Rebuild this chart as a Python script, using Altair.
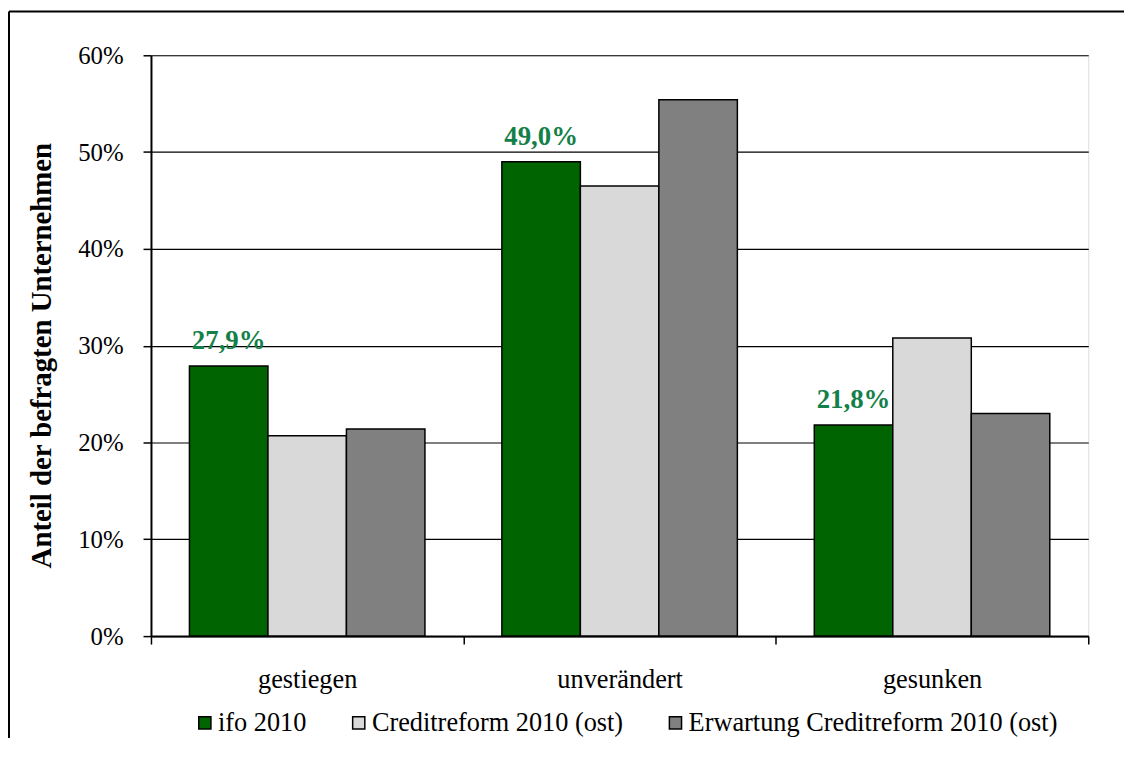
import altair as alt
import pandas as pd

categories = ["gestiegen", "unverändert", "gesunken"]
series = ["ifo 2010", "Creditreform 2010 (ost)", "Erwartung Creditreform 2010 (ost)"]
ifo_2010 = [0.279, 0.490, 0.218]
creditreform_2010 = [0.207, 0.465, 0.308]
erwartung_2010 = [0.214, 0.554, 0.230]
ifo_labels = ["27,9%", "49,0%", "21,8%"]
colors = ["#006400", "#D9D9D9", "#808080"]

rows = []
for i, c in enumerate(categories):
    for s, vals in zip(series, [ifo_2010, creditreform_2010, erwartung_2010]):
        rows.append({"Kategorie": c, "Serie": s, "Wert": vals[i],
                     "Label": ifo_labels[i] if s == series[0] else ""})
df = pd.DataFrame(rows)

FONT = "Liberation Serif"

x_enc = alt.X("Kategorie:N", sort=categories, title=None,
              scale=alt.Scale(paddingInner=0, paddingOuter=0),
              axis=alt.Axis(labelAngle=0, labelFontSize=26.5, labelFont=FONT, labelColor="black",
                            labelPadding=23, tickBand="extent", tickSize=8, tickColor="black",
                            tickWidth=1.5, domainColor="black", domainWidth=2, grid=False))
xoff_enc = alt.XOffset("Serie:N", sort=series,
                       scale=alt.Scale(domain=series, paddingInner=0, paddingOuter=0.49))
y_enc = alt.Y("Wert:Q", title="Anteil der befragten Unternehmen",
              scale=alt.Scale(domain=[0, 0.6]),
              axis=alt.Axis(format=".0%", values=[0, 0.1, 0.2, 0.3, 0.4, 0.5, 0.6],
                            labelFontSize=25, labelFont=FONT, labelColor="black", labelPadding=20,
                            tickSize=8, tickColor="black", tickWidth=1.5,
                            domainColor="black", domainWidth=2,
                            grid=True, gridColor="black", gridWidth=1.2,
                            titleFontSize=29, titleFont=FONT, titleFontWeight="bold",
                            titleColor="black", titlePadding=21, titleY=302))

bars = alt.Chart(df).mark_bar(stroke="black", strokeWidth=1.5).encode(
    x=x_enc,
    xOffset=xoff_enc,
    y=y_enc,
    color=alt.Color("Serie:N", sort=series,
                    scale=alt.Scale(domain=series, range=colors),
                    legend=alt.Legend(title=None, orient="none", direction="horizontal",
                                      legendX=41, legendY=659,
                                      labelFontSize=26.5, labelFont=FONT, labelColor="black",
                                      labelLimit=0,
                                      symbolType="square", symbolSize=150,
                                      symbolStrokeColor="black", symbolStrokeWidth=1.5,
                                      labelOffset=0, columnPadding=39)),
)

labels = alt.Chart(df).transform_filter(
    alt.datum.Serie == series[0]
).mark_text(fontSize=27, font=FONT, fontWeight="bold", color="#138049",
            baseline="alphabetic", dy=-17).encode(
    x=alt.X("Kategorie:N", sort=categories),
    xOffset=xoff_enc,
    y=alt.Y("Wert:Q"),
    text="Label:N",
)

frame_df = pd.DataFrame({"k": [0]})
frame_v = alt.Chart(frame_df).mark_rule(color="black", strokeWidth=2).encode(
    x=alt.value(-143), y=alt.value(-44), y2=alt.value(710))
frame_h = alt.Chart(frame_df).mark_rule(color="black", strokeWidth=2).encode(
    x=alt.value(-143), x2=alt.value(990), y=alt.value(-44))

chart = alt.layer(bars, labels, frame_v, frame_h).properties(
    width=944, height=585,
    padding={"left": 144, "top": 45, "right": 36, "bottom": 100},
    autosize=alt.AutoSizeParams(type="none"),
).configure_view(stroke="black", strokeWidth=2).configure(background="white")

chart.save("out.html", embed_options={"renderer": "svg", "actions": False})
